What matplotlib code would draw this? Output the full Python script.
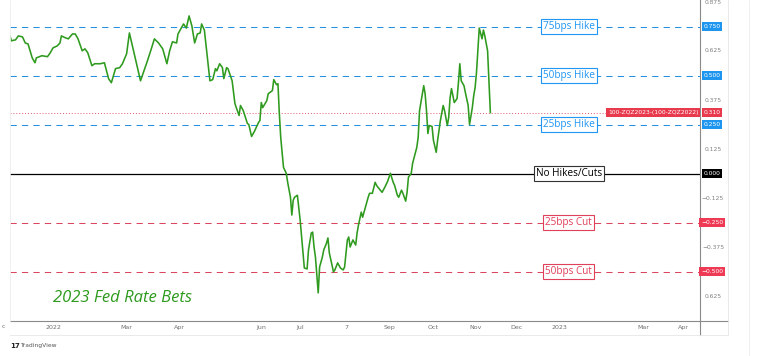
import matplotlib
matplotlib.use("Agg")
import matplotlib.pyplot as plt
from matplotlib.lines import Line2D

# ---------------- data ----------------
# days since 2022-01-01
days = [-31, -30, -27, -25, -22, -20, -18, -15, -13, -12, -8, -4, -2, 0, 3, 5, 6, 9, 11, 14,
        16, 18, 21, 23, 25, 28, 30, 34, 37, 40, 42, 45, 48, 50, 53, 55, 58, 60, 63, 65,
        68, 71, 73, 76, 79, 82, 84, 86, 89, 90, 94, 96, 98, 100, 102, 104, 106, 107, 109, 113,
        115, 117, 118, 120, 122, 123, 125, 126, 129, 131, 132, 134, 135, 137, 140, 141, 143, 145, 148, 149,
        150, 151, 154, 155, 158, 159, 161, 162, 163, 164, 166, 167, 168, 169, 171, 172, 173, 174, 176, 178,
        180, 181, 183, 184, 186, 187, 188, 189, 191, 192, 194, 195, 197, 198, 199, 202, 203, 205, 207, 209,
        210, 212, 213, 214, 216, 218, 219, 220, 222, 223, 225, 227, 228, 230, 232, 233, 234, 237, 239, 241,
        243, 245, 246, 248, 249, 251, 252, 254, 255, 256, 258, 259, 262, 263, 264, 266, 267, 268, 269, 270,
        271, 273, 274, 276, 277, 279, 281, 282, 284, 285, 286, 287, 289, 291, 292, 293, 294, 296, 297, 299,
        300, 302, 303, 304, 305, 307, 309, 310, 311, 313, 315]
spread = [0.702, 0.677, 0.682, 0.702, 0.697, 0.666, 0.661, 0.590, 0.565, 0.590, 0.601, 0.596, 0.616, 0.641, 0.651, 0.666, 0.702, 0.692, 0.687, 0.712,
          0.712, 0.687, 0.626, 0.636, 0.616, 0.550, 0.560, 0.560, 0.565, 0.484, 0.463, 0.535, 0.540, 0.560, 0.611, 0.717, 0.626, 0.565, 0.473, 0.514,
          0.575, 0.641, 0.687, 0.666, 0.636, 0.560, 0.626, 0.672, 0.666, 0.712, 0.763, 0.742, 0.804, 0.753, 0.666, 0.712, 0.717, 0.763, 0.732, 0.473,
          0.479, 0.535, 0.524, 0.560, 0.540, 0.484, 0.540, 0.535, 0.473, 0.357, 0.336, 0.296, 0.347, 0.321, 0.255, 0.250, 0.189, 0.214, 0.260, 0.270,
          0.362, 0.336, 0.372, 0.407, 0.423, 0.479, 0.453, 0.458, 0.306, 0.184, 0.031, 0.016, 0.001, -0.045, -0.121, -0.212, -0.136, -0.121, -0.111, -0.238,
          -0.405, -0.482, -0.487, -0.390, -0.304, -0.299, -0.375, -0.426, -0.609, -0.477, -0.426, -0.390, -0.355, -0.329, -0.405, -0.502, -0.492, -0.456, -0.482, -0.492,
          -0.477, -0.339, -0.324, -0.375, -0.339, -0.365, -0.304, -0.263, -0.197, -0.223, -0.172, -0.121, -0.101, -0.101, -0.045, -0.060, -0.070, -0.096, -0.070, -0.040,
          0.001, -0.045, -0.060, -0.111, -0.121, -0.085, -0.101, -0.141, -0.096, -0.019, 0.001, 0.052, 0.133, 0.184, 0.321, 0.407, 0.448, 0.407, 0.321, 0.204,
          0.245, 0.240, 0.169, 0.108, 0.169, 0.270, 0.347, 0.321, 0.245, 0.286, 0.387, 0.433, 0.362, 0.382, 0.463, 0.560, 0.473, 0.448, 0.413, 0.347,
          0.250, 0.336, 0.397, 0.438, 0.514, 0.742, 0.687, 0.732, 0.702, 0.626, 0.311]

level_values = [0.75, 0.50, 0.25, 0.0, -0.25, -0.50]
level_labels = ["75bps Hike", "50bps Hike", "25bps Hike", "No Hikes/Cuts", "25bps Cut", "50bps Cut"]
level_kinds = ["hike", "hike", "hike", "none", "cut", "cut"]
current_value = 0.310
series_name = "100-ZQZ2023-(100-ZQZ2022)"

grey_ticks = [0.875, 0.625, 0.375, 0.125, -0.125, -0.375, -0.625]
grey_tick_labels = ["0.875", "0.625", "0.375", "0.125", "\u22120.125", "\u22120.375", "0.625"]

xtick_days = [0, 53, 91, 150, 178, 211, 242, 274, 304, 334, 365, 425, 454]
xtick_labels = ["2022", "Mar", "Apr", "Jun", "Jul", "7", "Sep", "Oct", "Nov", "Dec", "2023", "Mar", "Apr"]

title_text = "2023 Fed Rate Bets"

# ---------------- style ----------------
BLUE_LINE = "#2590e0"
BLUE_TXT = "#2196f3"
RED_LINE = "#dc4560"
RED_TXT = "#e0405a"
GREEN = "#2e9a1e"

W, H = 762, 356
fig = plt.figure(figsize=(W / 100, H / 100), dpi=100)
fig.patch.set_facecolor("white")
ax = fig.add_axes([10 / W, 35 / H, 690 / W, 321 / H])
ax.set_xlim(-31, 466)
# 196 px per unit, zero at pixel row 173 (center 173.5)
ax.set_ylim(-(321 - 173.5) / 196, 173.5 / 196)

for s in ["top", "left", "bottom"]:
    ax.spines[s].set_visible(False)
ax.spines["right"].set_color("#8a8a8a")
ax.spines["right"].set_linewidth(0.8)

# level lines
dash = (0, (6, 5))
for v, kind in zip(level_values, level_kinds):
    if kind == "hike":
        ax.axhline(v, color=BLUE_LINE, lw=0.75, ls=dash, zorder=1)
    elif kind == "cut":
        ax.axhline(v, color=RED_LINE, lw=0.75, ls=dash, zorder=1)
    else:
        ax.axhline(v, color="black", lw=0.9, zorder=1)

ax.axhline(current_value, color="#e35a6e", lw=0.7, ls=(0, (1, 2)), zorder=1)

# series
ax.plot(days, spread, color=GREEN, lw=1.15, zorder=3, solid_joinstyle="round")

# level labels
xlab = 371.5
for v, lab, kind in zip(level_values, level_labels, level_kinds):
    if kind == "hike":
        tc, ec = BLUE_TXT, BLUE_TXT
    elif kind == "cut":
        tc, ec = RED_TXT, RED_TXT
    else:
        tc, ec = "black", "#333333"
    ax.text(xlab, v, lab, ha="center", va="center", fontsize=7.2, color=tc, zorder=5,
            family="Open Sans",
            bbox=dict(boxstyle="square,pad=0.22", fc="white", ec=ec, lw=0.8))

# axis ticks
ax.set_yticks([])
ax.set_xticks(xtick_days)
ax.set_xticklabels(xtick_labels, fontsize=4.5, color="#707070")
ax.tick_params(axis="x", length=0, pad=3)

ytrans = ax.get_yaxis_transform()
for v, lab in zip(grey_ticks, grey_tick_labels):
    ax.text(1 + 13 / 690, v, lab, transform=ytrans, ha="center", va="center",
            fontsize=4.3, color="#808080", clip_on=False)

def price_tag(v, text, fc):
    ax.text(1 + 12 / 690, v, text, transform=ytrans, ha="center", va="center",
            fontsize=4.3, color="white", clip_on=False, zorder=6,
            bbox=dict(boxstyle="square,pad=0.3", fc=fc, ec="none"))

for v, kind in zip(level_values, level_kinds):
    fc = {"hike": "#1e96f0", "cut": "#ee3a55", "none": "black"}[kind]
    txt = f"{v:.3f}".replace("-", "\u2212")
    price_tag(v, txt, fc)
price_tag(current_value, f"{current_value:.3f}", "#e8394d")

# series name tag
ax.text(1 - 1.5 / 690, current_value, series_name, transform=ytrans, ha="right", va="center",
        fontsize=4.3, color="white", zorder=6,
        bbox=dict(boxstyle="square,pad=0.3", fc="#e8394d", ec="none"))

# title
ax.text(0, -0.636, title_text, ha="left", va="center", fontsize=12, style="italic",
        color=GREEN, family="Open Sans", zorder=5)

# frame lines in figure pixel coords
def fline(x0, y0, x1, y1, color, lw=0.8):
    fig.add_artist(Line2D([x0 / W, x1 / W], [1 - y0 / H, 1 - y1 / H], color=color, lw=lw,
                          transform=fig.transFigure))

fline(10, 321, 728, 321, "#8a8a8a")
fline(700, 321, 700, 335, "#8a8a8a")
fline(10, 335, 728, 335, "#e6e6e6", 0.6)
fline(728, 0, 728, 335, "#e6e6e6", 0.6)
fline(749, 0, 749, 356, "#eeeeee", 0.6)
fline(10, 0, 10, 321, "#eeeeee", 0.6)

fig.text(3 / W, 1 - 327 / H, "c", fontsize=4.5, color="#707070", ha="center", va="center")
fig.text(10 / W, 1 - 346 / H, "17", fontsize=5, weight="bold", color="#222222", ha="left", va="center")
fig.text(20 / W, 1 - 346 / H, "TradingView", fontsize=4.3, color="#555555", ha="left", va="center")

fig.savefig("out.png", dpi=100, facecolor="white")
